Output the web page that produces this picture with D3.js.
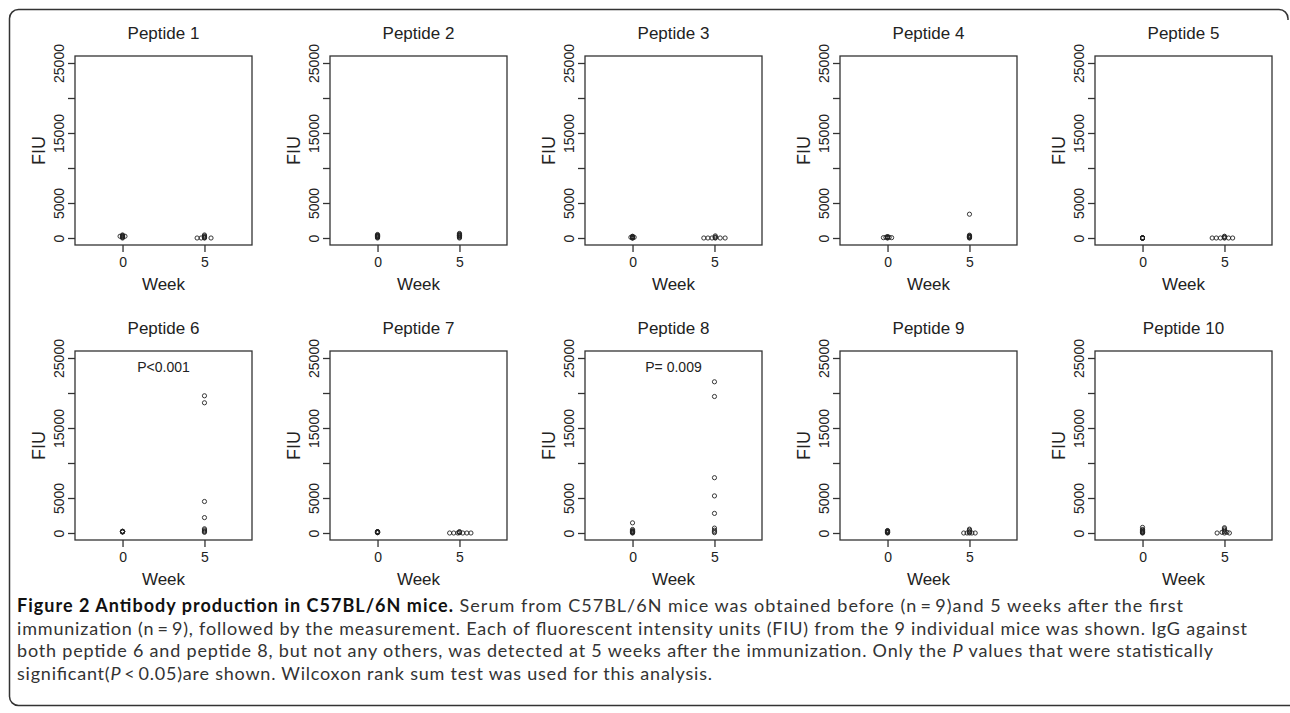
<!DOCTYPE html>
<html>
<head>
<meta charset="utf-8">
<script src="https://cdn.jsdelivr.net/npm/d3@7"></script>
<style>
  html, body { margin: 0; padding: 0; background: #fff; }
  svg { display: block; }
</style>
</head>
<body>
<svg id="fig" width="1290" height="713"></svg>
<script>
// panel titles and axis ticks
var peptides = ["Peptide 1", "Peptide 2", "Peptide 3", "Peptide 4", "Peptide 5",
                "Peptide 6", "Peptide 7", "Peptide 8", "Peptide 9", "Peptide 10"];
var weekTicks = [0, 5];
var fiuTicks = [0, 5000, 10000, 15000, 20000, 25000];
var fiuLabelled = [0, 5000, 15000, 25000];
var pLabels = [null, null, null, null, null, "P<0.001", null, "P= 0.009", null, null];

// [week (as plotted, with the stripchart spread), FIU] for the 9 mice at week 0 and week 5
var pep1 = [[0,0],[0,100],[0,150],[0,200],[0,300],[0,350],[-0.15,250],[0.15,250],[0,430],
            [4.55,0],[4.8,0],[5,0],[5,200],[5,430],[5,300],[5.4,0],[5,100],[5,50]];
var pep2 = [[0,0],[0,100],[0,150],[0,200],[0,250],[0,300],[0,350],[0,400],[0,500],
            [5,0],[5,100],[5,200],[5,300],[5,350],[5,400],[5,450],[5,550],[5,650]];
var pep3 = [[0,0],[0,50],[0,100],[0,150],[0,200],[0,250],[-0.1,100],[0.1,100],[0,0],
            [4.35,0],[4.6,0],[4.85,0],[5.05,0],[5.05,150],[5.05,300],[5.35,0],[5.65,0],[5.05,50]];
var pep4 = [[-0.25,50],[0,0],[0,100],[0,200],[0.25,50],[0,50],[0,150],[-0.1,100],[0.1,100],
            [5,0],[5,100],[5,200],[5,300],[5,400],[5,50],[5,150],[5,250],[5,3400]];
var pep5 = [[0,0],[0,0],[0,0],[0,0],[0,0],[0,0],[0,0],[0,0],[0,0],
            [4.25,0],[4.5,0],[4.75,0],[5,0],[5,150],[5,250],[5.25,0],[5.5,0],[5,50]];
var pep6 = [[0,200],[0,200],[0,150],[0,250],[0,200],[0,150],[0,200],[0,250],[0,200],
            [5,19600],[5,18600],[5,4500],[5,2200],[5,600],[5,450],[5,300],[5,200],[5,100]];
var pep7 = [[0,50],[0,100],[0,150],[0,200],[0,100],[0,150],[0,50],[0,100],[0,200],
            [4.4,0],[4.65,0],[4.9,0],[5,100],[5,200],[5.2,0],[5.45,0],[5.7,0],[5,50]];
var pep8 = [[0,1450],[0,500],[0,350],[0,250],[0,150],[0,100],[0,50],[0,0],[0,200],
            [5,21600],[5,19500],[5,7900],[5,5300],[5,2800],[5,700],[5,400],[5,200],[5,50]];
var pep9 = [[0,0],[0,50],[0,100],[0,150],[0,200],[0,300],[0,250],[0,350],[0,100],
            [4.65,0],[4.85,0],[5,0],[5,200],[5,400],[5,550],[5.15,0],[5.35,0],[5,100]];
var pep10 = [[0,800],[0,500],[0,300],[0,200],[0,100],[0,0],[0,50],[0,150],[0,400],
             [4.55,0],[5,0],[5,200],[5,400],[5,750],[5.3,0],[5.15,100],[4.85,100],[5,600]];
var series = [pep1, pep2, pep3, pep4, pep5, pep6, pep7, pep8, pep9, pep10];

// caption lines, split into runs: [text, bold, italic]
var caption = [
  [["Figure 2 Antibody production in C57BL/6N mice.", true, false],
   [" Serum from C57BL/6N mice was obtained before (n\u2009=\u20099)and 5 weeks after the first", false, false]],
  [["immunization (n\u2009=\u20099), followed by the measurement. Each of fluorescent intensity units (FIU) from the 9 individual mice was shown. IgG against", false, false]],
  [["both peptide 6 and peptide 8, but not any others, was detected at 5 weeks after the immunization. Only the ", false, false],
   ["P", false, true], [" values that were statistically", false, false]],
  [["significant(", false, false], ["P", false, true], ["\u2009<\u20090.05)are shown. Wilcoxon rank sum test was used for this analysis.", false, false]]
];
var captionWidths = [1166, 1230, 1196, 695];

var svg = d3.select("#fig");
var ink = "#222";

// outer frame: rounded on the left, only the top corner shows on the right
var fp = d3.path();
fp.moveTo(1288, 20);
fp.arcTo(1288, 9.5, 1278, 9.5, 9);
fp.lineTo(19, 9.5);
fp.arcTo(9.5, 9.5, 9.5, 19, 9);
fp.lineTo(9.5, 696);
fp.arcTo(9.5, 705.5, 19, 705.5, 9);
fp.lineTo(1290, 705.5);
svg.append("path")
  .attr("d", fp.toString())
  .attr("fill", "none")
  .attr("stroke", "#333")
  .attr("stroke-width", 1.5);

var colStep = 255, rowStep = 295;
var boxW = 177, boxH = 189;

peptides.forEach(function(name, i) {
  var col = i % 5, row = Math.floor(i / 5);
  var left = 75 + col * colStep, top = 56 + row * rowStep;

  // R style axis ranges: xlim c(-2.5, 7.5), ylim c(0, 25000), each widened by 4%
  var x = d3.scaleLinear().domain([-2.9, 7.9]).range([left, left + boxW]);
  var y = d3.scaleLinear().domain([-1000, 26000]).range([top + boxH, top]);

  var g = svg.append("g").attr("font-family", "'Liberation Sans', Arial, sans-serif");

  g.append("rect")
    .attr("x", left).attr("y", top)
    .attr("width", boxW).attr("height", boxH)
    .attr("fill", "none")
    .attr("stroke", "#333")
    .attr("stroke-width", 1.3);

  // x axis: ticks at week 0 and 5 only
  var xAxis = g.append("g")
    .attr("transform", "translate(0," + (top + boxH) + ")")
    .call(d3.axisBottom(x).tickValues(weekTicks).tickSize(7).tickPadding(5).tickFormat(d3.format("d")));
  xAxis.select(".domain").remove();
  xAxis.selectAll("line").attr("stroke", "#333").attr("stroke-width", 1.3);
  xAxis.selectAll("text")
    .attr("fill", ink)
    .attr("font-size", 14)
    .attr("font-family", "'Liberation Sans', Arial, sans-serif");

  // y axis: ticks every 5000, labels only where R had room for them
  var yAxis = g.append("g")
    .attr("transform", "translate(" + left + ",0)")
    .call(d3.axisLeft(y).tickValues(fiuTicks).tickSize(7)
      .tickFormat(function(d) { return fiuLabelled.indexOf(d) >= 0 ? String(d) : ""; }));
  yAxis.select(".domain").remove();
  yAxis.selectAll("line").attr("stroke", "#333").attr("stroke-width", 1.3);
  yAxis.selectAll("text")
    .attr("fill", ink)
    .attr("font-size", 14)
    .attr("font-family", "'Liberation Sans', Arial, sans-serif")
    .attr("text-anchor", "middle")
    .attr("dy", null)
    .attr("x", null)
    .attr("transform", "translate(-11,0) rotate(-90)");

  // titles
  g.append("text")
    .attr("x", left + boxW / 2).attr("y", top - 17)
    .attr("text-anchor", "middle")
    .attr("font-size", 17)
    .attr("fill", ink)
    .text(name);

  g.append("text")
    .attr("x", left + boxW / 2).attr("y", top + boxH + 45)
    .attr("text-anchor", "middle")
    .attr("font-size", 17)
    .attr("fill", ink)
    .text("Week");

  g.append("text")
    .attr("transform", "translate(" + (left - 30) + "," + (top + boxH / 2) + ") rotate(-90)")
    .attr("text-anchor", "middle")
    .attr("font-size", 18)
    .attr("fill", ink)
    .text("FIU");

  if (pLabels[i]) {
    g.append("text")
      .attr("x", x(2.5)).attr("y", y(23700) + 5)
      .attr("text-anchor", "middle")
      .attr("font-size", 14)
      .attr("fill", ink)
      .text(pLabels[i]);
  }

  // open circles, pch = 1
  g.selectAll("circle")
    .data(series[i])
    .enter().append("circle")
      .attr("cx", (d) => x(d[0]))
      .attr("cy", (d) => y(d[1]))
      .attr("r", 2.1)
      .attr("fill", "none")
      .attr("stroke", ink)
      .attr("stroke-width", 0.9);
});

// caption
var cap = svg.append("g")
  .attr("font-family", "Lato, 'Open Sans', sans-serif")
  .attr("font-size", 18)
  .attr("fill", "#333");

caption.forEach(function(runs, li) {
  var t = cap.append("text")
    .attr("x", 17)
    .attr("y", 612 + li * 22.6)
    .attr("textLength", captionWidths[li])
    .attr("lengthAdjust", "spacing");
  runs.forEach(function(r) {
    t.append("tspan")
      .attr("font-weight", r[1] ? "bold" : null)
      .attr("font-style", r[2] ? "italic" : null)
      .attr("fill", r[1] ? "#111" : null)
      .text(r[0]);
  });
});
</script>
</body>
</html>
